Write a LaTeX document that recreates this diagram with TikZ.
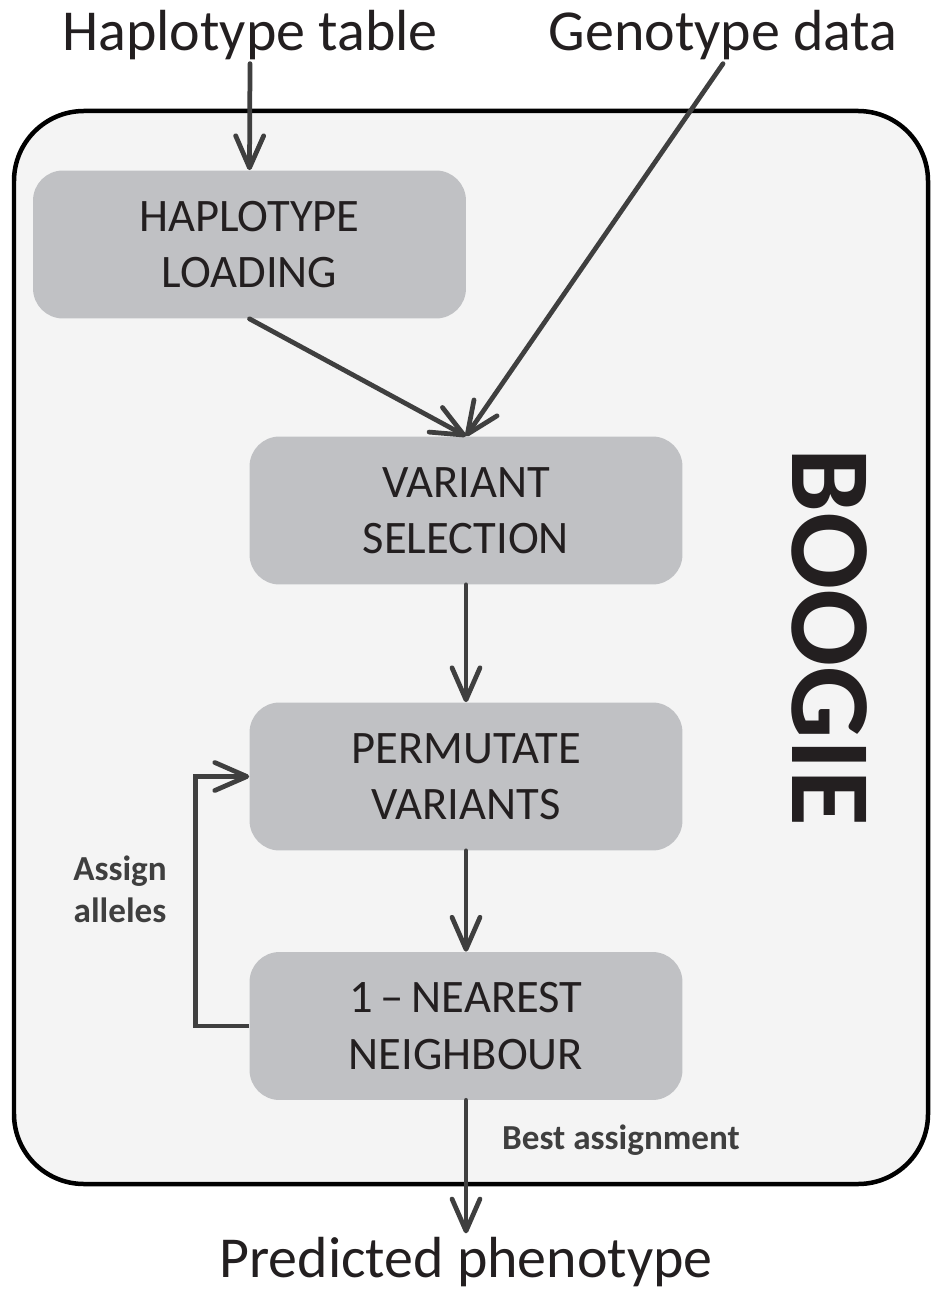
\documentclass[tikz,border=0pt]{standalone}
\usepackage{fontspec}
\setmainfont{Carlito}
\usetikzlibrary{arrows.meta}

\definecolor{boxgray}{HTML}{C0C1C4}
\definecolor{panelgray}{HTML}{F4F4F4}
\definecolor{arrowgray}{HTML}{3F3F3F}
\definecolor{textdark}{HTML}{231F20}

\tikzset{
  stage/.style={rounded corners=0.6cm, fill=boxgray, minimum width=8.66cm,
    minimum height=2.96cm, align=center, text=textdark,
    font=\fontsize{26.5}{32}\selectfont},
  io/.style={text=textdark, font=\fontsize{33}{38}\selectfont, inner sep=2pt},
  note/.style={text=arrowgray, align=center, font=\fontsize{20}{24}\selectfont\bfseries},
  arr/.style={draw=arrowgray, line width=0.095cm, line cap=round,
    -{Straight Barb[length=0.64cm, width=0.56cm, line width=0.095cm, round]}}
}

\begin{document}
\begin{tikzpicture}[x=0.02cm, y=-0.02cm]
		\useasboundingbox (0,0) rectangle (933,1293);
		% outer panel
		\draw[line width=0.09cm, fill=panelgray, rounded corners=1.4cm] (14,111) rectangle (928,1184);
		\node[rotate=-90, text=textdark, font=\fontsize{65}{70}\selectfont\bfseries] (tool) at (830,637) {BOOGIE};
		% inputs and output
		\node[io] (htab) at (250,35) {Haplotype table};
		\node[io] (gdata) at (723,35) {Genotype data};
		\node[io] (pheno) at (466,1262) {Predicted phenotype};
		% stages
		\node[stage] (hload) at (249.5,244.5) {HAPLOTYPE\\LOADING};
		\node[stage] (vsel) at (466,510.5) {VARIANT\\SELECTION};
		\node[stage] (perm) at (466,776.5) {PERMUTATE\\VARIANTS};
		\node[stage] (nn) at (466,1026) {1\,--\,NEAREST\\NEIGHBOUR};
		% labels
		\node[note] (assign) at (120,889) {Assign\\alleles};
		\node[note] (best) at (621,1140) {Best assignment};
		% connectors
		\draw[arr] (htab.south) -- (hload.north);
		\draw[arr] (gdata.south) -- (vsel.north);
		\draw[arr] (hload.south) -- (vsel.north);
		\draw[arr] (vsel) -- (perm);
		\draw[arr] (perm) -- (nn);
		\draw[arr, line cap=butt] (nn.west) -- ++(-54,0) |- (perm.west);
		\draw[arr] (nn.south) -- (pheno.north);
	\end{tikzpicture}
\end{document}
